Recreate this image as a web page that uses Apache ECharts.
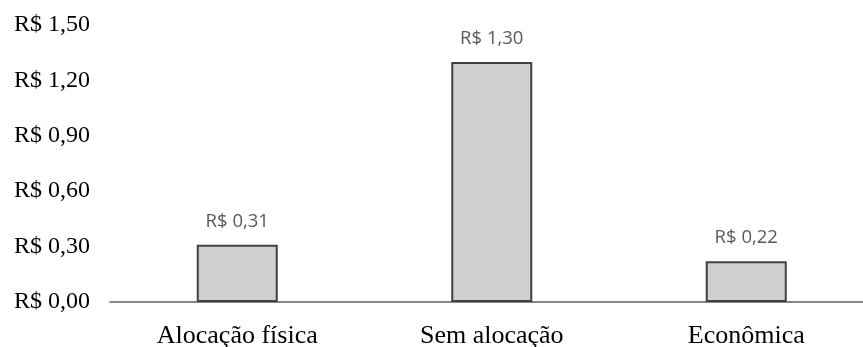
<!DOCTYPE html>
<html>
<head>
<meta charset="utf-8">
<script src="https://cdn.jsdelivr.net/npm/echarts@6/dist/echarts.min.js"></script>
<style>
  html, body { margin: 0; padding: 0; background: #ffffff; }
  #chart { width: 863px; height: 347px; }
</style>
</head>
<body>
<div id="chart"></div>
<script>
// Custo por unidade em cada critério de alocação
const categories = ['Alocação física', 'Sem alocação', 'Econômica'];
const values = [0.31, 1.30, 0.22];
const yTicks = [0, 0.30, 0.60, 0.90, 1.20, 1.50];

const brl = v => 'R$ ' + v.toFixed(2).replace('.', ',');

const chart = echarts.init(document.getElementById('chart'));
chart.setOption({
  animation: false,
  backgroundColor: '#ffffff',
  grid: {
    left: 110, top: 25, width: 763.5, height: 277,
    containLabel: false,
    outerBoundsMode: 'none'
  },
  xAxis: {
    type: 'category',
    data: categories,
    axisLine: { show: true, lineStyle: { color: '#5f5f5f', width: 1.5 } },
    axisTick: { show: false },
    axisLabel: {
      color: '#000000',
      fontFamily: 'Liberation Serif',
      fontSize: 26,
      margin: 21
    }
  },
  yAxis: {
    type: 'value',
    min: yTicks[0],
    max: yTicks[yTicks.length - 1],
    interval: yTicks[1] - yTicks[0],
    axisLine: { show: false },
    axisTick: { show: false },
    splitLine: { show: false },
    axisLabel: {
      color: '#000000',
      fontFamily: 'Liberation Serif',
      fontSize: 24,
      margin: 20,
      formatter: v => brl(v)
    }
  },
  series: [{
    type: 'bar',
    data: values,
    barWidth: 81,
    itemStyle: { color: '#d0cece', borderColor: '#404040', borderWidth: 2 },
    label: {
      show: true,
      position: 'top',
      distance: 14,
      color: '#595959',
      fontFamily: 'Open Sans',
      fontSize: 18.5,
      formatter: p => brl(p.value)
    }
  }]
});
</script>
</body>
</html>
